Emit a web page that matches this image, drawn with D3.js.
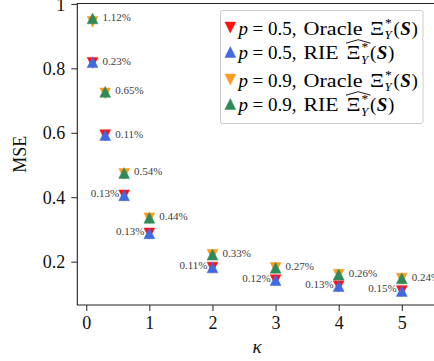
<!DOCTYPE html>
<html>
<head>
<meta charset="utf-8">
<script src="https://cdn.jsdelivr.net/npm/d3@7"></script>
<style>
  html, body { margin: 0; padding: 0; background: #fff; }
  svg { display: block; }
  text { font-family: "Liberation Serif", "DejaVu Serif", serif; white-space: pre; }
</style>
</head>
<body>
<svg id="chart" width="434" height="361"></svg>
<script>
// Mean squared error of the oracle and RIE estimators versus kappa
const kappa = [0.1, 0.3, 0.6, 1, 2, 3, 4, 5];

const mseOracleP05 = [0.8171, 0.5923, 0.4055, 0.2876, 0.1818, 0.1423, 0.1238, 0.1088];
const mseRieP05    = [0.819, 0.593, 0.406, 0.288, 0.182, 0.1425, 0.124, 0.109];
const mseOracleP09 = [0.9444, 0.7223, 0.4724, 0.3345, 0.2213, 0.1805, 0.1596, 0.1476];
const mseRieP09    = [0.955, 0.727, 0.475, 0.336, 0.222, 0.181, 0.160, 0.148];

// relative gap between RIE and oracle, printed next to each pair
const gapP05 = ["0.23%", "0.11%", "0.13%", "0.13%", "0.11%", "0.12%", "0.13%", "0.15%"];
const gapP09 = ["1.12%", "0.65%", "0.54%", "0.44%", "0.33%", "0.27%", "0.26%", "0.24%"];

const xTicks = [0, 1, 2, 3, 4, 5];
const yTicks = [0.2, 0.4, 0.6, 0.8, 1];

const series = [
  { p: "0.5", kind: "Oracle", values: mseOracleP05, color: "#ff1010", shape: "down" },
  { p: "0.5", kind: "RIE",    values: mseRieP05,    color: "#4169e1", shape: "up" },
  { p: "0.9", kind: "Oracle", values: mseOracleP09, color: "#ff9a1c", shape: "down" },
  { p: "0.9", kind: "RIE",    values: mseRieP09,    color: "#2e8b57", shape: "up" }
];

const svg = d3.select("#chart");
const box = { left: 77.3, right: 437, top: 3.5, bottom: 305 };

const x = d3.scaleLinear().domain([-0.142, 5.558]).range([box.left, box.right]);
const y = d3.scaleLinear().domain([0.0655, 1.0012]).range([box.bottom, box.top]);

// axes
const gx = svg.append("g").attr("transform", `translate(0,${box.bottom})`)
  .call(d3.axisBottom(x).tickValues(xTicks).tickFormat(d3.format("d")).tickSize(6).tickPadding(5));
const gy = svg.append("g").attr("transform", `translate(${box.left},0)`)
  .call(d3.axisLeft(y).tickValues(yTicks).tickFormat(d => d === 1 ? "1" : d3.format(".1f")(d)).tickSize(6).tickPadding(6));
[gx, gy].forEach(g => {
  g.select(".domain").remove();
  g.selectAll(".tick line").attr("stroke", "#222").attr("stroke-width", 1);
  g.selectAll(".tick text").attr("fill", "#111").style("font-size", "18px")
    .style("font-family", "'Liberation Serif', serif");
});
gy.selectAll(".tick text").attr("dy", "0.34em");

// frame (top, left, bottom spines; the right edge lies past the canvas)
svg.append("path")
  .attr("d", `M${box.right},${box.top}H${box.left}V${box.bottom}H${box.right}`)
  .attr("fill", "none").attr("stroke", "#222").attr("stroke-width", 1.1);

// axis labels
svg.append("text")
  .attr("transform", `translate(25.5,${(box.top + box.bottom) / 2}) rotate(-90)`)
  .attr("text-anchor", "middle").attr("fill", "#111")
  .style("font-size", "18px").text("MSE");
svg.append("text")
  .attr("x", 257).attr("y", 353).attr("text-anchor", "middle").attr("fill", "#111")
  .style("font-size", "19px").style("font-style", "italic").text("κ");

// triangle markers, centred on their bounding box
const s = 10.8;
function tri(shape) {
  const h = s / 2;
  return shape === "up"
    ? `M0,${-h}L${h},${h}L${-h},${h}Z`
    : `M0,${h}L${h},${-h}L${-h},${-h}Z`;
}

const plot = svg.append("g");
series.forEach(se => {
  plot.append("g").selectAll("path")
    .data(kappa.map((k, i) => ({ k, v: se.values[i] })))
    .join("path")
    .attr("transform", d => `translate(${x(d.k)},${y(d.v)})`)
    .attr("d", tri(se.shape))
    .attr("fill", se.color)
    .attr("stroke", se.color).attr("stroke-width", 0.5);
});

// gap annotations
const labels = svg.append("g").style("font-size", "11px").attr("fill", "#3d3d3d");
kappa.forEach((k, i) => {
  labels.append("text")
    .attr("x", x(k) + 10).attr("y", y(mseRieP09[i]) - 1.5)
    .attr("dy", "0.35em").text(gapP09[i]);
  const right = k < 0.5;
  labels.append("text")
    .attr("x", right ? x(k) + 10 : x(k) - 5)
    .attr("y", y(mseRieP05[i]) - (right ? 1 : 2.5))
    .attr("dy", "0.35em")
    .attr("text-anchor", right ? "start" : "end")
    .text(gapP05[i]);
});

// legend
const lg = svg.append("g");
lg.append("rect")
  .attr("x", 220.5).attr("y", 10.5).attr("width", 202.5).attr("height", 113)
  .attr("rx", 2).attr("fill", "rgba(255,255,255,0.85)")
  .attr("stroke", "#cccccc").attr("stroke-width", 1);

const fs = 19;
const rowY = [27.5, 52, 79.5, 104];
const kindWidth = { Oracle: 59, RIE: 35 };
series.forEach((se, r) => {
  const cy = rowY[r];
  lg.append("path")
    .attr("transform", `translate(230.3,${cy})`)
    .attr("d", tri(se.shape))
    .attr("fill", se.color).attr("stroke", se.color).attr("stroke-width", 0.5);

  const base = cy + 7.2;
  const put = (str, px, style, dy0, size, len) => {
    const t = lg.append("text")
      .attr("x", px).attr("y", base + (dy0 || 0))
      .attr("fill", "#000")
      .style("font-size", (size || fs) + "px")
      .text(str);
    if (style.italic) t.style("font-style", "italic");
    if (style.bold) t.style("font-weight", "bold");
    if (len) t.attr("textLength", len).attr("lengthAdjust", "spacingAndGlyphs");
    return len || t.node().getComputedTextLength();
  };
  put("p", 238.5, { italic: true });
  put("=", 252.5, {});
  put(se.p + ",", 268, {});
  put(se.kind, 303.5, {}, 0, fs, kindWidth[se.kind]);
  const xi = se.kind === "RIE" ? 346.5 : 370;
  put("Ξ", xi, {}, 0, fs, 14);
  put("*", xi + 15, {}, -8, 13.5);
  put("Y", xi + 14.5, { italic: true }, 4.5, 13);
  let cx = xi + 23.5;
  cx += put("(", cx, {});
  cx += put("S", cx + 0.5, { italic: true, bold: true }) + 1;
  put(")", cx, {});

  if (se.kind === "RIE") {
    const x0 = xi - 0.5, x1 = xi + 24;
    const ht = base - 16;
    lg.append("path")
      .attr("d", `M${x0},${ht}L${(x0 + x1) / 2},${ht - 3.5}L${x1},${ht}`)
      .attr("fill", "none").attr("stroke", "#000").attr("stroke-width", 0.9);
  }
});
</script>
</body>
</html>
